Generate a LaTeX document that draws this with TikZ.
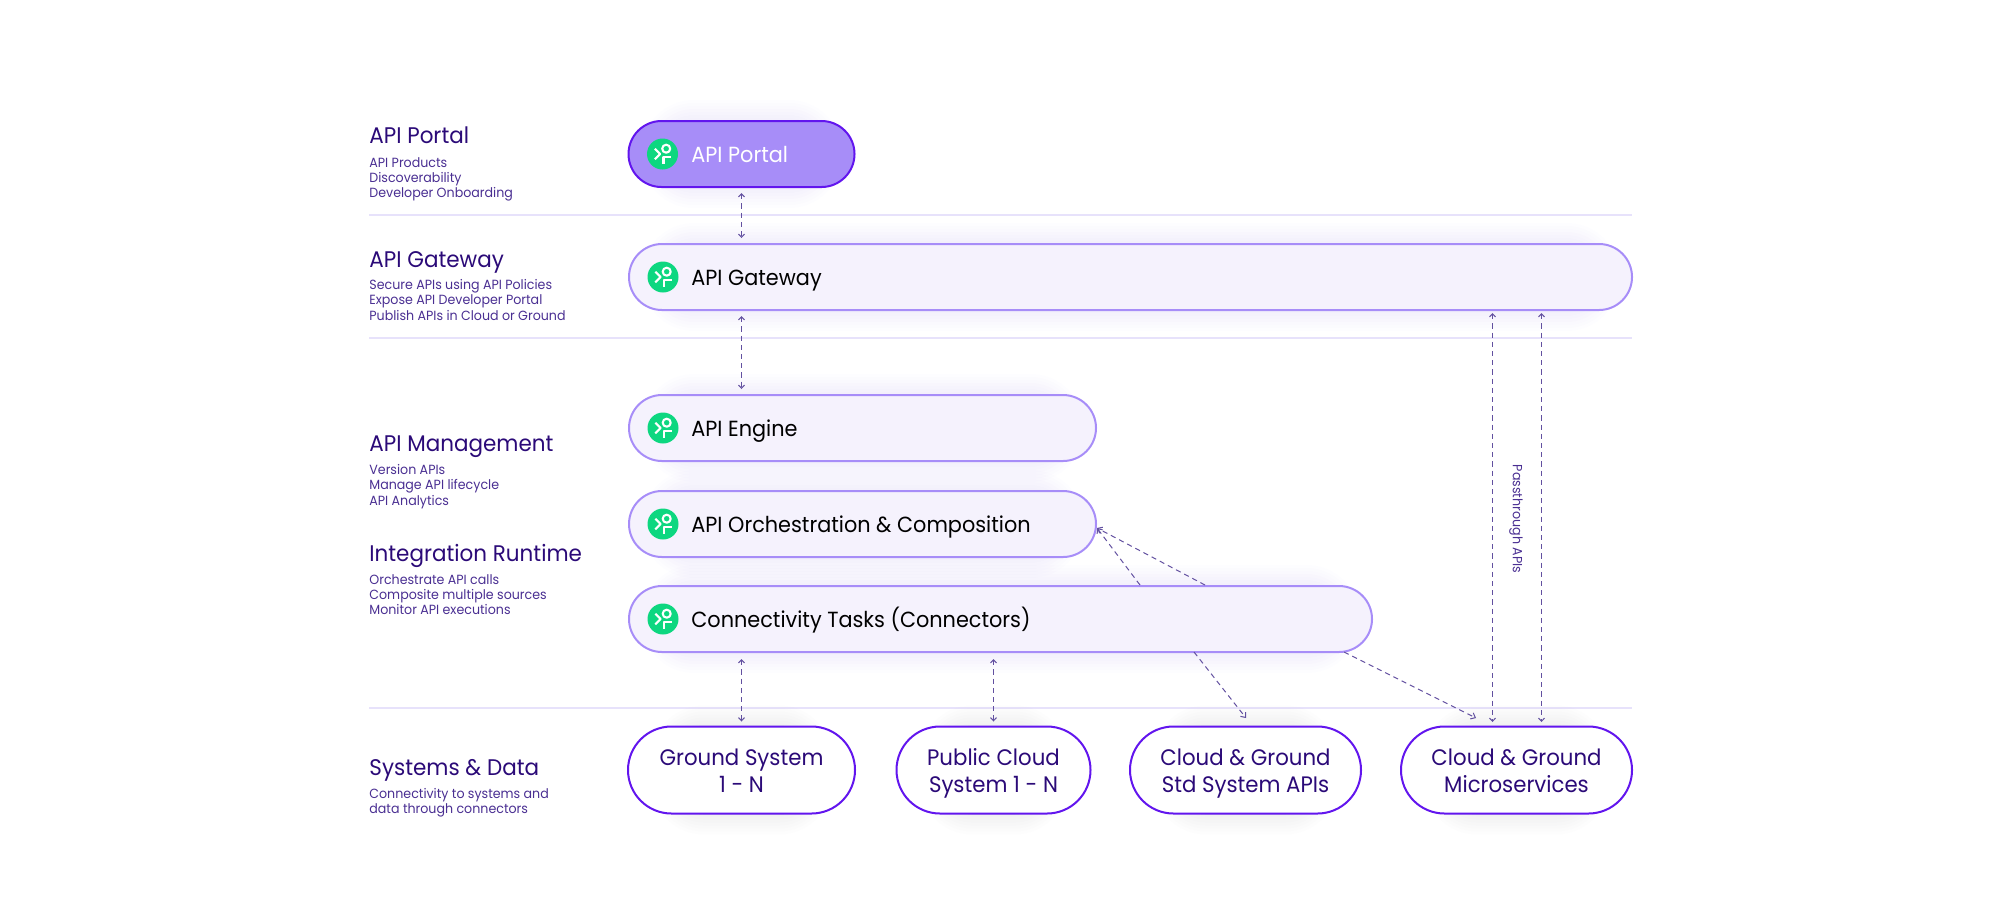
\documentclass[tikz,border=0pt]{standalone}
\usepackage{fontspec}
\setmainfont[FakeStretch=0.95]{Poppins}
\usetikzlibrary{arrows.meta,backgrounds,positioning,shapes.misc}
\definecolor{pInk}{HTML}{2B0A78}
\definecolor{pSub}{HTML}{4A2F92}
\definecolor{pFlow}{HTML}{6250A0}
\definecolor{pRule}{HTML}{E7E2FB}
\definecolor{pStrong}{HTML}{6215EE}
\definecolor{pSoft}{HTML}{A78DF8}
\definecolor{pPale}{HTML}{F5F2FD}
\definecolor{pGreen}{HTML}{0DD780}
\definecolor{pShade}{HTML}{6A4AD8}
\definecolor{pGrey}{HTML}{50505A}
\tikzset{
    pill/.style={rounded rectangle, draw=pSoft, line width=1pt, fill=pPale, inner sep=0pt, minimum height=33pt},
    portalpill/.style={pill, draw=pStrong, fill=pSoft},
    syspill/.style={pill, draw=pStrong, fill=white, minimum height=43.5pt},
    systext/.style={inner sep=0pt, align=center, text=pInk, font=\fontsize{11.2}{13.5}\selectfont},
    pilltext/.style={inner sep=0pt, anchor=base west, font=\fontsize{10.95}{13.3}\selectfont},
    iconball/.style={circle, fill=pGreen, inner sep=0pt, minimum size=15.5pt},
    iconline/.style={white, line width=1.05pt, line join=round},
    heading/.style={inner sep=0pt, anchor=base west, text=pInk, font=\fontsize{11.3}{13.3}\selectfont},
    sublist/.style={inner sep=0pt, anchor=north west, align=left, text=pSub, font=\fontsize{6.65}{7.65}\selectfont},
    rule/.style={pRule, line width=.7pt},
    dashline/.style={pFlow, line width=.5pt, dash pattern=on 2.6pt off 2pt},
    flow/.style={dashline, {Straight Barb[length=1.6pt,width=3pt]}-{Straight Barb[length=1.6pt,width=3pt]}},
    oneway/.style={dashline, -{Straight Barb[length=2pt,width=3.4pt]}}
}

\begin{document}
\begin{tikzpicture}[x=.5pt,y=-.5pt]
\useasboundingbox (0,0) rectangle (2000,923);
% rows of pills
\node[portalpill,minimum width=113pt] (portal) at (741.5,154) {};
\node[pill,minimum width=501.5pt] (gateway) at (1130.5,277) {};
\node[pill,minimum width=233.5pt] (engine) at (862.5,428) {};
\node[pill,minimum width=233.5pt] (orch) at (862.5,524) {};
\node[pill,minimum width=371.5pt] (conn) at (1000.5,619) {};
\node[syspill,minimum width=113.5pt] (ground) at (741.5,770) {};
\node[syspill,minimum width=97pt] (public) at (993.5,770) {};
\node[syspill,minimum width=115.5pt] (stdapi) at (1245.5,770) {};
\node[syspill,minimum width=115.5pt] (micro) at (1516.5,770) {};
\node[systext] (groundtext) at ([yshift=-1.7pt]ground.center) {\strut Ground System\\\strut 1 - N};
\node[systext] (publictext) at ([yshift=-1.7pt]public.center) {\strut Public Cloud\\\strut System 1 - N};
\node[systext] (stdapitext) at ([yshift=-1.7pt]stdapi.center) {\strut Cloud \& Ground\\\strut Std System APIs};
\node[systext] (microtext) at ([yshift=-1.7pt]micro.center) {\strut Cloud \& Ground\\\strut Microservices};
% icons
\foreach \n in {portal,gateway,engine,orch,conn} {
    \node[iconball] (\n icon) at ([xshift=17.5pt]\n.west) {};
    \draw[iconline] ([shift={(3.7,-5.3)}]\n icon.center) circle (4);
    \draw[iconline] ([shift={(-7.7,-5.3)}]\n icon.center) -- ([shift={(-2.4,0)}]\n icon.center) -- ([shift={(-7.7,5.3)}]\n icon.center);
    \draw[iconline] ([shift={(1,9.5)}]\n icon.center) -- ([shift={(1,3)}]\n icon.center) -- ([shift={(8.5,3)}]\n icon.center);
}
\node[pilltext,text=white] (portaltext) at (691,162) {API Portal};
\node[pilltext] (gatewaytext) at (691,285) {API Gateway};
\node[pilltext] (enginetext) at (691,436) {API Engine};
\node[pilltext] (orchtext) at (691,532) {API Orchestration \& Composition};
\node[pilltext] (conntext) at (691,627) {Connectivity Tasks (Connectors)};
% left column
\node[heading] (h1) at (369,143) {API Portal};
\node[sublist] (s1) at (369,157) {API Products\\Discoverability\\Developer Onboarding};
\node[heading] (h2) at (369,267) {API Gateway};
\node[sublist] (s2) at (369,279) {Secure APIs using API Policies\\Expose API Developer Portal\\Publish APIs in Cloud or Ground};
\node[heading] (h3) at (369,451) {API Management};
\node[sublist] (s3) at (369,464) {Version APIs\\Manage API lifecycle\\API Analytics};
\node[heading] (h4) at (369,561) {Integration Runtime};
\node[sublist] (s4) at (369,574) {Orchestrate API calls\\Composite multiple sources\\Monitor API executions};
\node[heading] (h5) at (369,775) {Systems \& Data};
\node[sublist] (s5) at (369,788) {Connectivity to systems and\\data through connectors};
% rules and shadows
\begin{scope}[on background layer]
\foreach \y in {215,338,708}
    \draw[rule] (369,\y) -- (1632,\y);
\foreach \n/\c in {portal/pShade,gateway/pShade,engine/pShade,orch/pShade,conn/pShade,ground/pGrey,public/pGrey,stdapi/pGrey,micro/pGrey}
    \foreach \w in {4,10,...,40}
        \draw[\c,opacity=.011,line width=\w*.5pt,fill=\c,rounded corners=16pt,yshift=-7pt] (\n.south west) rectangle (\n.north east);
\end{scope}
% connectors
\coordinate (pa) at (1492.5,722);
\coordinate (pb) at (1541.5,722);
\coordinate (pc) at (1492.5,313);
\coordinate (pd) at (1541.5,313);
\coordinate (oa) at (1140,585);
\coordinate (ob) at (1205,585);
\coordinate (oc) at (1097,528);
\coordinate (sa) at (1194,652);
\coordinate (sb) at (1246,718);
\coordinate (sc) at (1344,652);
\coordinate (sd) at (1476,718);
\draw[flow,shorten <=2.5pt,shorten >=2.5pt] (portal.south) -- (portal.south |- gateway.north);
\draw[flow,shorten <=2.5pt,shorten >=2.5pt] (portal |- gateway.south) -- (portal |- engine.north);
\draw[flow,shorten <=3pt,shorten >=2pt] (conn.south -| ground) -- (ground.north);
\draw[flow,shorten <=3pt,shorten >=2pt] (conn.south -| public) -- (public.north);
\draw[flow] (pc) -- (pa);
\draw[flow] (pd) -- (pb);
\draw[oneway] (oa) -- (oc);
\draw[oneway] (ob) -- (oc);
\draw[oneway] (sa) -- (sb);
\draw[oneway] (sc) -- (sd);
\node[rotate=-90,inner sep=0pt,text=pSub,font=\fontsize{6.65}{7.65}\selectfont] (passlabel) at (1516,519) {Passthrough APIs};
\end{tikzpicture}
\end{document}
